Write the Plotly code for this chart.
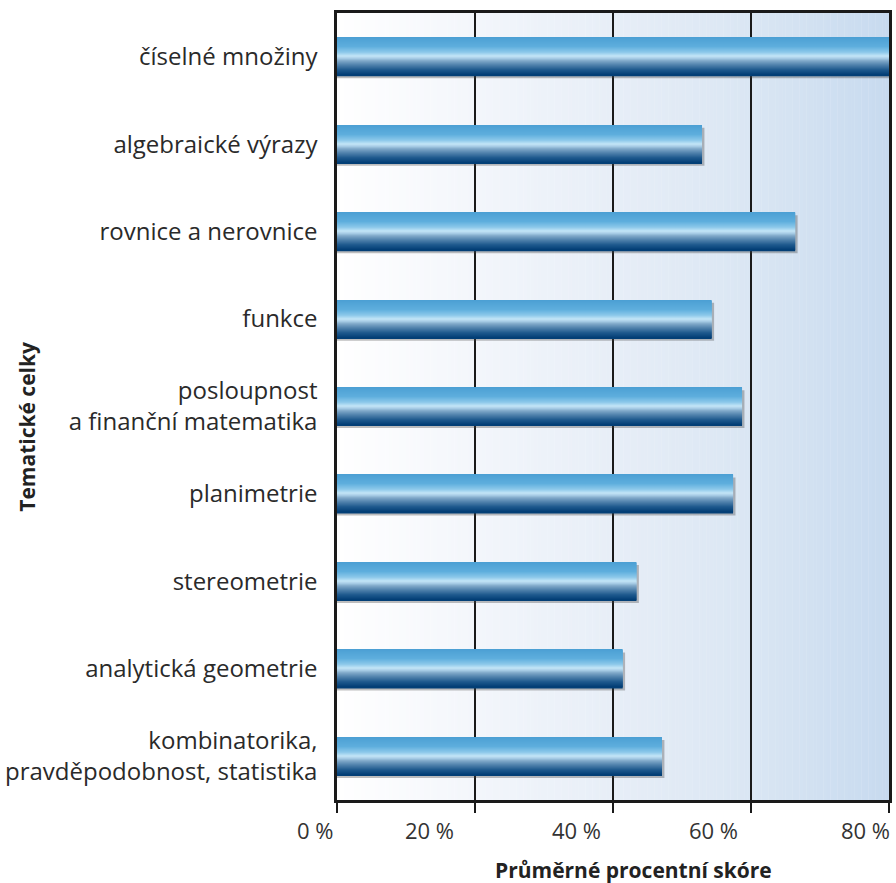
import plotly.graph_objects as go

categories = [
    "číselné množiny",
    "algebraické výrazy",
    "rovnice a nerovnice",
    "funkce",
    "posloupnost<br>a finanční matematika",
    "planimetrie",
    "stereometrie",
    "analytická geometrie",
    "kombinatorika,<br>pravděpodobnost, statistika",
]
values = [80.0, 52.9, 66.4, 54.3, 58.7, 57.4, 43.4, 41.4, 47.1]
tick_vals = [0, 20, 40, 60, 80]
tick_labels = ["0 %", "20 %", "40 %", "60 %", "80 %"]
tick_label_shift = [-22, -46, -37, -38, -24]  # label offsets seen in the original

FONT = "Open Sans"
W = 0.434  # bar thickness in category units


def hex2rgb(h):
    h = h.lstrip("#")
    return tuple(int(h[i:i + 2], 16) for i in (0, 2, 4))


def interp(stops, t):
    for (t0, c0), (t1, c1) in zip(stops, stops[1:]):
        if t0 <= t <= t1:
            a = (t - t0) / (t1 - t0) if t1 > t0 else 0
            r0, g0, b0 = hex2rgb(c0)
            r1, g1, b1 = hex2rgb(c1)
            return "rgb(%d,%d,%d)" % (round(r0 + (r1 - r0) * a), round(g0 + (g1 - g0) * a), round(b0 + (b1 - b0) * a))
    return stops[-1][1]


bar_stops = [
    (0.00, "#4b9fd4"),
    (0.25, "#5eaedd"),
    (0.40, "#8cc8ea"),
    (0.50, "#c3e5f7"),
    (0.56, "#a9cde6"),
    (0.63, "#7ea7c8"),
    (0.73, "#5283ad"),
    (0.86, "#1f5a8e"),
    (1.00, "#003c74"),
]

fig = go.Figure()

# drop shadow
fig.add_trace(go.Bar(
    y=categories, x=[v + 0.35 for v in values], orientation="h",
    width=W, offset=-W / 2 + 0.03,
    marker=dict(color="rgba(70,70,70,0.35)", line=dict(width=0)),
    hoverinfo="skip", showlegend=False,
))

N = 38
sw = W / N
for i in range(N):
    t = (i + 0.5) / N
    fig.add_trace(go.Bar(
        y=categories, x=values, orientation="h",
        width=sw * 1.6, offset=-W / 2 + i * sw,
        marker=dict(color=interp(bar_stops, t), line=dict(width=0)),
        hoverinfo="skip", showlegend=False,
    ))

# background horizontal gradient
bg_stops = [(0, "#ffffff"), (20, "#f3f6fb"), (40, "#e7eef7"), (60, "#dae6f3"), (80, "#c7daef")]
shapes = []
step = 0.5
x = 0.0
while x < 80:
    shapes.append(dict(
        type="rect", xref="x", yref="paper", x0=x, x1=x + step + 0.05, y0=0, y1=1,
        fillcolor=interp(bg_stops, x + step / 2), line=dict(width=0), layer="below",
    ))
    x += step

annotations = [
    dict(text="<b>Průměrné procentní skóre</b>", xref="paper", yref="paper",
         x=0.537, y=-0.089, showarrow=False, font=dict(size=21, color="#222222"),
         xanchor="center", yanchor="middle"),
    dict(text="<b>Tematické celky</b>", xref="paper", yref="paper",
         x=-0.562, y=0.474, showarrow=False, textangle=-90,
         font=dict(size=21, color="#222222"), xanchor="center", yanchor="middle"),
]
for tv, tl, sh in zip(tick_vals, tick_labels, tick_label_shift):
    annotations.append(dict(
        text=tl, xref="x", yref="paper", x=tv, y=0, yshift=-30, xshift=sh,
        showarrow=False, font=dict(size=22, color="#333333"),
        xanchor="center", yanchor="middle",
    ))

fig.update_layout(
    width=896, height=883,
    margin=dict(l=337, r=4, t=13, b=83),
    paper_bgcolor="white", plot_bgcolor="white",
    barmode="overlay",
    shapes=shapes,
    font=dict(family=FONT, color="#222222"),
    xaxis=dict(
        range=[0, 80], tickvals=tick_vals, showticklabels=False,
        showgrid=True, gridcolor="#1a1a1a", gridwidth=2,
        showline=True, linecolor="#1a1a1a", linewidth=2.5, mirror=True,
        ticks="outside", ticklen=10, tickwidth=2, tickcolor="#1a1a1a",
        zeroline=False,
    ),
    yaxis=dict(
        categoryorder="array", categoryarray=categories, autorange="reversed",
        showline=True, linecolor="#1a1a1a", linewidth=2.5, mirror=True,
        ticks="", ticklabelstandoff=12, showgrid=False,
        tickfont=dict(size=24, color="#2a2a2a"),
    ),
    annotations=annotations,
)

fig.write_html("out.html")
